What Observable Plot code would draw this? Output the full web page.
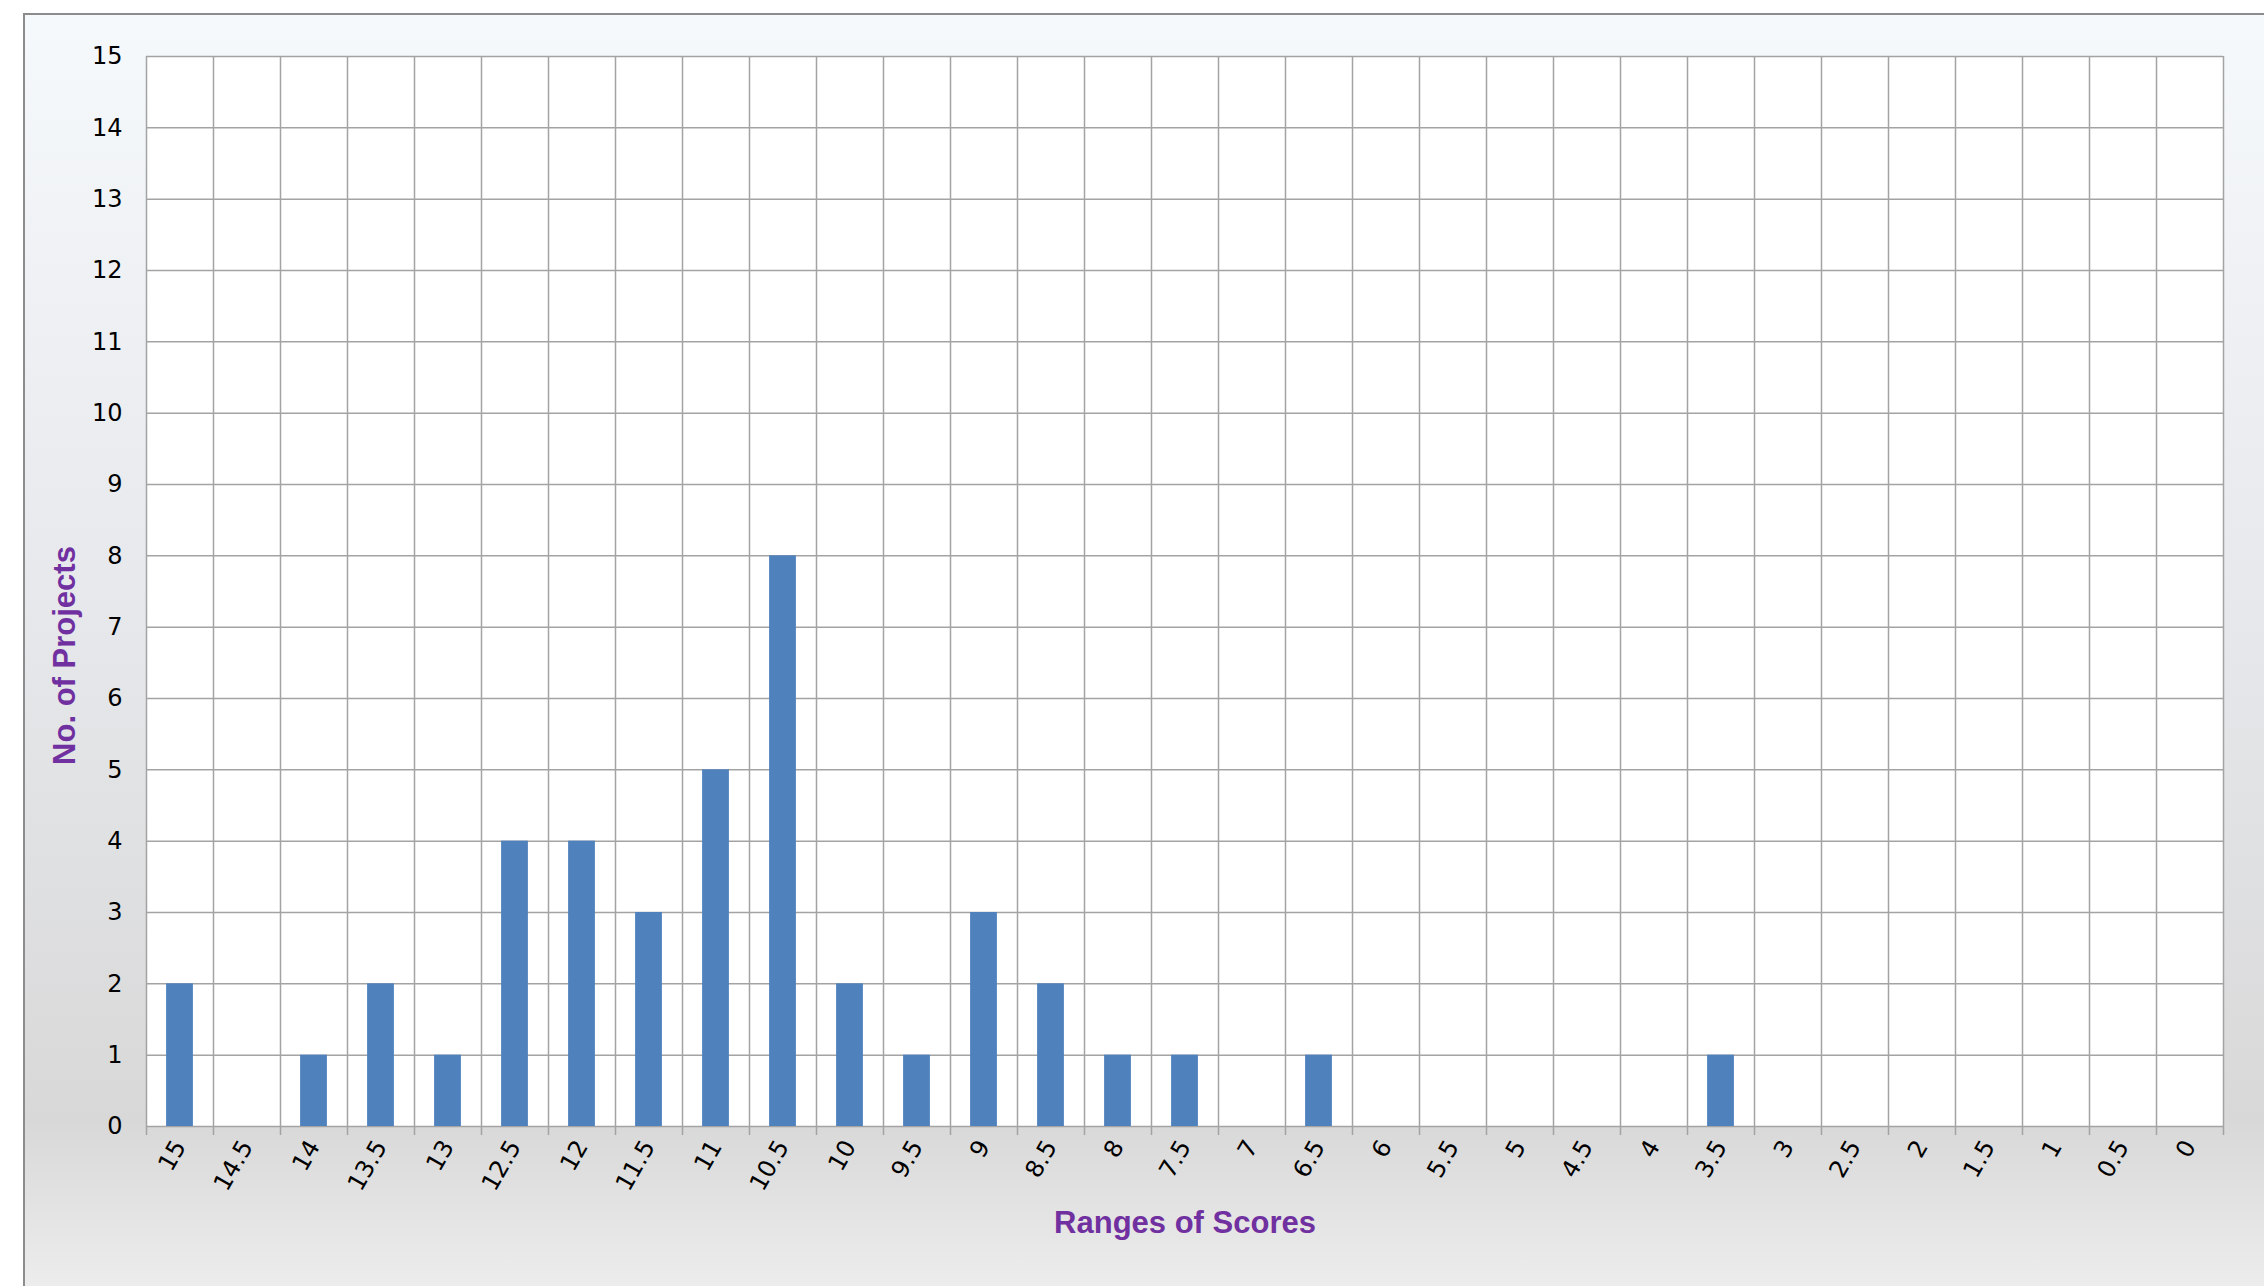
<!DOCTYPE html>
<html>
<head>
<meta charset="utf-8">
<script src="https://cdn.jsdelivr.net/npm/d3@7"></script>
<script src="https://cdn.jsdelivr.net/npm/@observablehq/plot@0.6"></script>
<style>
  html, body { margin: 0; padding: 0; overflow: hidden; background: #ffffff; }
  #frame {
    position: absolute; left: 23px; top: 13px; width: 2300px; height: 1320px;
    border: 2px solid #8c8c8c; box-sizing: border-box;
    background: linear-gradient(to bottom, #f6f9fc 0%, #e6e8eb 45%, #d8d8d8 84%, #f2f2f2 100%);
  }
  #chart { position: absolute; left: 0; top: 0; }
</style>
</head>
<body>
<div id="frame"></div>
<div id="chart"></div>
<script>
const scoreRanges = ["15","14.5","14","13.5","13","12.5","12","11.5","11","10.5","10","9.5","9","8.5","8","7.5","7","6.5","6","5.5","5","4.5","4","3.5","3","2.5","2","1.5","1","0.5","0"];
const projectCounts = [2,0,1,2,1,4,4,3,5,8,2,1,3,2,1,1,0,1,0,0,0,0,0,1,0,0,0,0,0,0,0];
const yTicks = [0,1,2,3,4,5,6,7,8,9,10,11,12,13,14,15];
const xTitle = "Ranges of Scores";
const yTitle = "No. of Projects";

const data = scoreRanges.map((label, i) => ({label, i, count: projectCounts[i]}));
const boundaries = d3.range(0, scoreRanges.length + 1);
const centers = scoreRanges.map((_, i) => i + 0.5);
const gridColor = "#a3a3a3";
const titleStyle = {fill: "#7030a0", fontWeight: "bold", fontFamily: "'Liberation Sans', Arial, sans-serif", fontSize: 31, textAnchor: "middle", lineAnchor: "middle"};

const chart = Plot.plot({
  width: 2264,
  height: 1286,
  marginLeft: 146,
  marginTop: 56,
  marginRight: 41,
  marginBottom: 160,
  style: {background: "transparent", fontFamily: "'DejaVu Sans', sans-serif", fontSize: "24px", color: "#000"},
  x: {type: "linear", domain: [0, scoreRanges.length]},
  y: {domain: [0, 15]},
  marks: [
    Plot.frame({fill: "white", stroke: null}),
    Plot.gridX({ticks: boundaries, stroke: gridColor, strokeOpacity: 1, strokeWidth: 1.5}),
    Plot.gridY({ticks: yTicks, stroke: gridColor, strokeOpacity: 1, strokeWidth: 1.5}),
    Plot.rectY(data, {x1: d => d.i + 0.3, x2: d => d.i + 0.7, y1: 0, y2: "count", fill: "#4f81bd"}),
    Plot.axisY({ticks: yTicks, tickSize: 0, tickPadding: 24, label: null, fill: "#000", fontSize: 24}),
    Plot.axisX({ticks: boundaries, tickSize: 9, tickFormat: () => "", stroke: gridColor, strokeWidth: 1.5, label: null}),
    Plot.axisX({ticks: centers, tickSize: 0, tickPadding: 16, tickRotate: -60,
      tickFormat: v => scoreRanges[Math.floor(v)], label: null, fill: "#000", fontSize: 24}),
    Plot.text([xTitle], {frameAnchor: "bottom", dy: 97, text: d => d, ...titleStyle}),
    Plot.text([yTitle], {frameAnchor: "left", dx: -81, dy: 64, rotate: -90, text: d => d, ...titleStyle})
  ]
});
document.getElementById("chart").append(chart);
</script>
</body>
</html>
